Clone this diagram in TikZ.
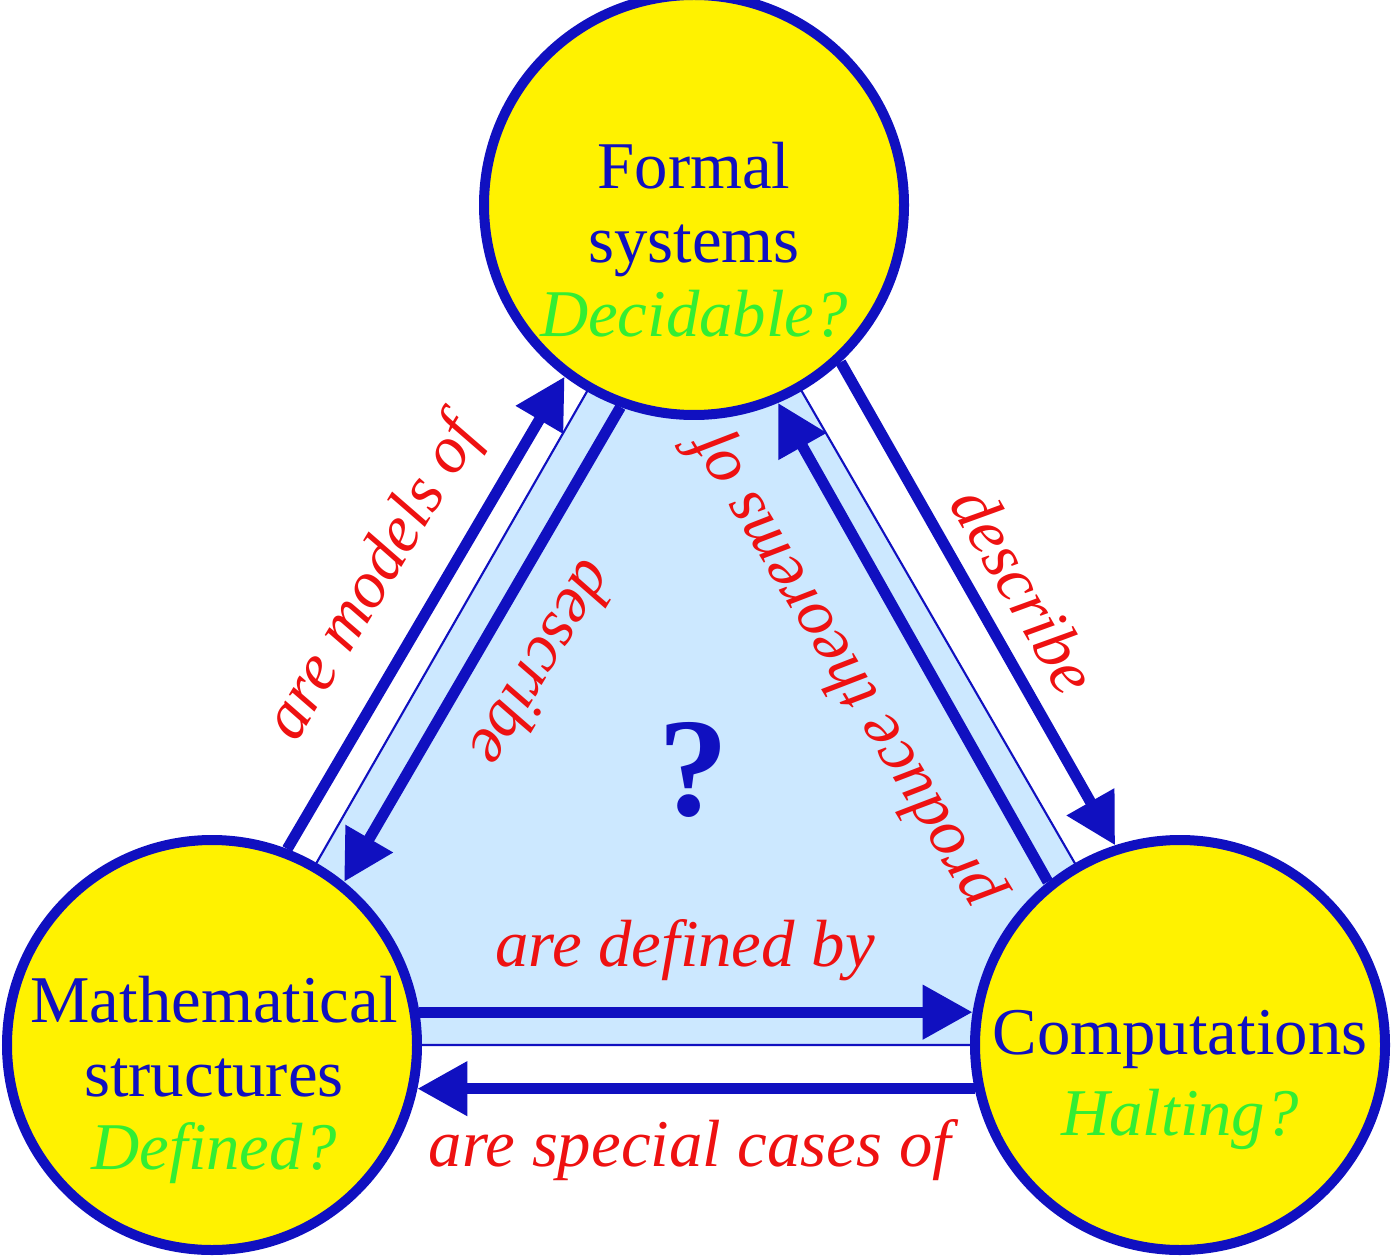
\documentclass[tikz,border=0pt]{standalone}
\usepackage{fontspec}
\setmainfont{Liberation Serif}
\usetikzlibrary{arrows.meta}
\definecolor{ringblue}{HTML}{1010C0}
\definecolor{skyfill}{HTML}{CCE8FF}
\definecolor{askgreen}{HTML}{33EE33}
\definecolor{verbred}{HTML}{EE1111}

\begin{document}
\begin{tikzpicture}[
    world/.style={circle,draw=ringblue,fill=yellow,line width=0.1cm,inner sep=0pt},
    worldtext/.style={text=ringblue,align=center,font=\fontsize{19}{21}\selectfont},
    verb/.style={text=verbred,font=\fontsize{19}{21}\selectfont\itshape},
    link/.style={draw=ringblue,line width=0.11cm,-{Triangle[length=0.5cm,width=0.52cm]}}
  ]
  \useasboundingbox (0,0) rectangle (13.98,12.58);

  % background triangle
  \coordinate (ctop) at (6.94,10.53);
  \coordinate (cleft) at (2.12,2.13);
  \coordinate (cright) at (11.80,2.13);
  \draw[ringblue,fill=skyfill,line width=0.6pt] (ctop) -- (cleft) -- (cright) -- cycle;

  % the three worlds
  \node[world,minimum size=4.2cm] (formal) at (ctop) {};
  \node[world,minimum size=4.1cm] (maths) at (cleft) {};
  \node[world,minimum size=4.1cm] (comp) at (cright) {};

  \node[worldtext] (tformal) at (6.94,10.18) {Formal\\systems\\\textcolor{askgreen}{\itshape Decidable?}};
  \node[worldtext] (tmaths) at (2.14,1.78) {Mathematical\\structures\\\textcolor{askgreen}{\itshape Defined?}};
  \node[worldtext] (tcomp) at (11.80,1.78) {Computations\\[2pt]\textcolor{askgreen}{\itshape Halting?}};

  % arrows
  \draw[link] (maths.69) -- (formal.233);
  \draw[link] (formal.250) -- (maths.51);
  \draw[link] (formal.313) -- (comp.108);
  \draw[link] (comp.129) -- (formal.293);
  \draw[link] (maths.9) -- (comp.171);
  \draw[link] (comp.192) -- (maths.348);

  % labels
  \node[verb,rotate=59] (lmodels) at (3.75,6.78) {are models of};
  \node[verb,rotate=-121] (ldescl) at (5.45,5.93) {describe};
  \node[verb,rotate=-60] (ldescr) at (10.25,6.68) {describe};
  \node[verb,rotate=121] (lprod) at (8.45,5.88) {produce theorems of};
  \node[verb] (ldef) at (6.85,3.08) {are defined by};
  \node[verb] (lspec) at (6.90,1.08) {are special cases of};

  \node[text=ringblue,font=\fontsize{40}{44}\selectfont\bfseries] (ask) at (6.94,4.88) {?};
\end{tikzpicture}
\end{document}
